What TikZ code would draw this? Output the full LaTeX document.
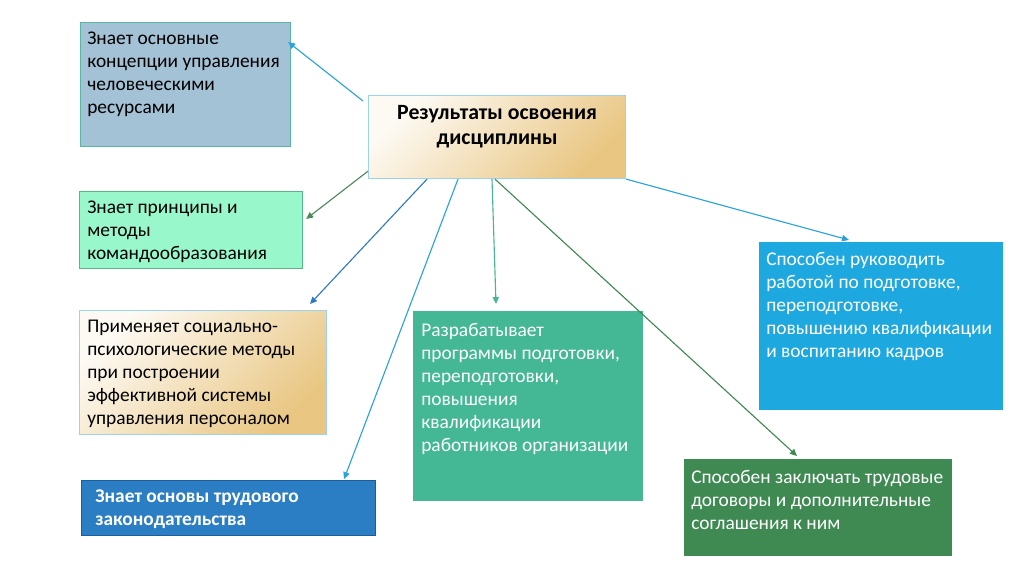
\documentclass[tikz,border=0pt]{standalone}
\usepackage{fontspec}
\setmainfont{Carlito}
\usepackage{tikz}
\usetikzlibrary{arrows.meta, positioning, calc}

\definecolor{knowfill}{HTML}{A4C2D6}
\definecolor{knowline}{HTML}{5AB5A0}
\definecolor{mintfill}{HTML}{99F7CC}
\definecolor{mintline}{HTML}{5CB586}
\definecolor{paleline}{HTML}{9DD3EA}
\definecolor{tanlight}{HTML}{FDFAF4}
\definecolor{tandark}{HTML}{E9C682}
\definecolor{lawfill}{HTML}{2B7DC4}
\definecolor{lawline}{HTML}{1B5E9E}
\definecolor{progfill}{HTML}{44B894}
\definecolor{leadfill}{HTML}{1EA8E0}
\definecolor{dealfill}{HTML}{3E8A52}
\definecolor{skyline}{HTML}{2AA3DB}
\definecolor{deepline}{HTML}{2E7BC4}
\definecolor{mossline}{HTML}{4C8A5C}
\definecolor{tealline}{HTML}{47B593}

\begin{document}
\begin{tikzpicture}[
  panel/.style 2 args={rectangle, anchor=north west, inner sep=0pt,
                       minimum width=#1, minimum height=#2},
  body/.style={anchor=north west, align=left, inner sep=0pt,
               font=\fontsize{13.8}{16.3}\selectfont},
  tanbox/.style={draw=paleline, line width=0.8pt, left color=tanlight,
                 right color=tandark, shading angle=45},
  link/.style={-{Triangle[length=5pt, width=4.5pt]}, line width=0.8pt}
]
  \useasboundingbox (0,0) rectangle (25.6,-14.35);

  % central box
  \node[panel={6.425cm}{2.075cm}, tanbox] (res) at (9.2,-2.375) {};
  \node[anchor=north, align=center, inner sep=0pt,
        font=\fontsize{15.5}{18.4}\selectfont\bfseries]
    (resT) at ([yshift=-0.24cm]res.north) {Результаты освоения\\дисциплины};

  % left column
  \node[panel={5.25cm}{3.1cm}, fill=knowfill, draw=knowline, line width=0.8pt]
    (know) at (2.0,-0.55) {};
  \node[body] (knowT) at ([shift={(0.175,-0.25)}]know.north west)
    {Знает основные\\концепции управления\\человеческими\\ресурсами};

  \node[panel={5.575cm}{1.925cm}, fill=mintfill, draw=mintline, line width=0.8pt]
    (team) at (1.975,-4.775) {};
  \node[body] (teamT) at ([shift={(0.2,-0.25)}]team.north west)
    {Знает принципы и\\методы\\командообразования};

  \node[panel={6.175cm}{3.1cm}, tanbox] (psy) at (1.975,-7.75) {};
  \node[body] (psyT) at ([shift={(0.2,-0.25)}]psy.north west)
    {Применяет социально-\\психологические методы\\при построении\\эффективной системы\\управления персоналом};

  \node[panel={7.35cm}{1.375cm}, fill=lawfill, draw=lawline, line width=0.8pt]
    (law) at (2.025,-12.0) {};
  \node[body, text=white, font=\fontsize{13.8}{16.3}\selectfont\bfseries]
    (lawT) at ([shift={(0.35,-0.25)}]law.north west)
    {Знает основы трудового\\законодательства};

  % middle and right
  \node[panel={5.75cm}{4.75cm}, fill=progfill] (prog) at (10.325,-7.775) {};
  \node[body, text=white] (progT) at ([shift={(0.2,-0.3)}]prog.north west)
    {Разрабатывает\\программы подготовки,\\переподготовки,\\повышения\\квалификации\\работников организации};

  \node[panel={6.1cm}{4.2cm}, fill=leadfill] (lead) at (18.975,-6.05) {};
  \node[body, text=white] (leadT) at ([shift={(0.175,-0.25)}]lead.north west)
    {Способен руководить\\работой по подготовке,\\переподготовке,\\повышению квалификации\\и воспитанию кадров};

  \node[panel={6.7cm}{2.425cm}, fill=dealfill] (deal) at (17.1,-11.475) {};
  \node[body, text=white] (dealT) at ([shift={(0.175,-0.27)}]deal.north west)
    {Способен заключать трудовые\\договоры и дополнительные\\соглашения к ним};

  % connectors
  \draw[link, skyline]  ([shift={(-0.125,-0.15)}]res.north west) -- ([shift={(-0.075,-0.5)}]know.north east);
  \draw[link, mossline] ([yshift=0.2cm]res.south west) -- ([shift={(0.075,-0.7)}]team.north east);
  \draw[link, deepline] ([xshift=1.475cm]res.south west) -- ([shift={(5.775,0.15)}]psy.north west);
  \draw[link, skyline]  ([xshift=2.25cm]res.south west) -- ([shift={(6.575,0.02)}]law.north west);
  \draw[link, tealline] ([xshift=3.1cm]res.south west) -- ([shift={(2.075,0.175)}]prog.north west);
  \draw[link, dealfill] ([xshift=3.175cm]res.south west) -- ([shift={(2.825,0.075)}]deal.north west);
  \draw[link, skyline]  (res.south east) -- ([shift={(2.25,0.05)}]lead.north west);
\end{tikzpicture}
\end{document}
